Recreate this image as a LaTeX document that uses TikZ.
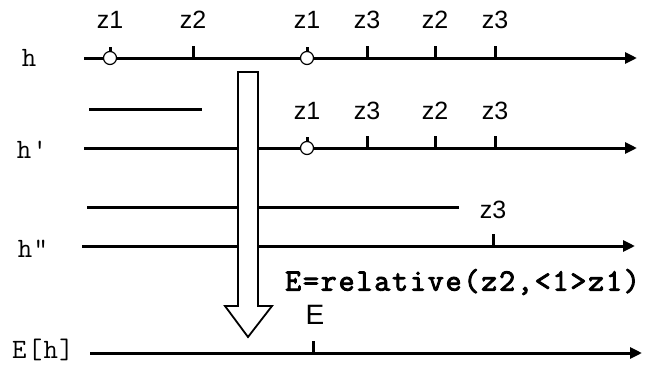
\documentclass[tikz,border=0pt]{standalone}
\usepackage{fontspec}
\setmainfont{Liberation Sans}
\newfontfamily\cour[LetterSpace=5]{Latin Modern Mono}
\newfontfamily\courbf[LetterSpace=6,FakeBold=3]{Latin Modern Mono}
\usetikzlibrary{arrows.meta}
\begin{document}
\begin{tikzpicture}[x=1pt,y=-1pt,
  axis/.style={line width=3pt,-{Triangle[length=12pt,width=11pt]}},
  seg/.style={line width=3pt},
  tick/.style={line width=3pt},
  evt/.style={circle,draw,line width=1.2pt,fill=white,inner sep=0pt,minimum size=13pt},
  zlab/.style={font=\fontsize{25}{25}\selectfont,inner sep=0pt},
  hlab/.style={font=\cour\fontsize{28}{28}\selectfont,inner sep=0pt},
  big/.style={draw,line width=1.8pt,fill=white}]
\useasboundingbox (0,0) rectangle (662,365);
% row h
\coordinate (h0) at (84,58); \coordinate (h1) at (637,58);
\node[hlab] (lh) at (29,58) {h};
\draw[axis] (h0) -- (h1);
\draw[tick] (110,47) -- (110,53);
\node[evt] (c1) at (110,58) {};
\draw[tick] (193,46) -- (193,58);
\draw[tick] (307,47) -- (307,53);
\node[evt] (c2) at (307,58) {};
\draw[tick] (367,46) -- (367,58);
\draw[tick] (435,46) -- (435,58);
\draw[tick] (495,46) -- (495,58);
\node[zlab] (a1) at (110,20) {z1};
\node[zlab] (a2) at (193,20) {z2};
\node[zlab] (a3) at (307,20) {z1};
\node[zlab] (a4) at (367,20) {z3};
\node[zlab] (a5) at (435,20) {z2};
\node[zlab] (a6) at (495,20) {z3};
% row h'
\coordinate (p0) at (84,148); \coordinate (p1) at (637,148);
\coordinate (s0) at (89,109); \coordinate (s1) at (202,109);
\node[hlab] (lp) at (32,150) {h'};
\draw[seg] (s0) -- (s1);
\draw[axis] (p0) -- (p1);
\draw[tick] (307,137) -- (307,143);
\node[evt] (c3) at (307,148) {};
\draw[tick] (367,136) -- (367,148);
\draw[tick] (435,136) -- (435,148);
\draw[tick] (495,136) -- (495,148);
\node[zlab] (b3) at (307,111) {z1};
\node[zlab] (b4) at (367,111) {z3};
\node[zlab] (b5) at (435,111) {z2};
\node[zlab] (b6) at (495,111) {z3};
% row h''
\coordinate (q0) at (82,246); \coordinate (q1) at (635,246);
\coordinate (t0) at (87,207); \coordinate (t1) at (459,207);
\node[hlab] (lq) at (33,249) {h"};
\draw[seg] (t0) -- (t1);
\draw[axis] (q0) -- (q1);
\draw[tick] (493,234) -- (493,246);
\node[zlab] (d6) at (493,210) {z3};
% E[h]
\coordinate (e0) at (90,353); \coordinate (e1) at (642,353);
\node[hlab] (le) at (43,350) {E[h]};
\draw[axis] (e0) -- (e1);
\draw[tick] (313,341) -- (313,353);
\node[font=\fontsize{28}{28}\selectfont,inner sep=0pt] (el) at (315,315) {E};
\node[font=\courbf\fontsize{31}{31}\selectfont,inner sep=0pt,anchor=west] (formula) at (285,282) {E=relative(z2,<1>z1)};
% big arrow
\draw[big] (238,72) -- (258,72) -- (258,306) -- (272,306) -- (248,337) -- (225,306) -- (238,306) -- cycle;
\end{tikzpicture}
\end{document}
